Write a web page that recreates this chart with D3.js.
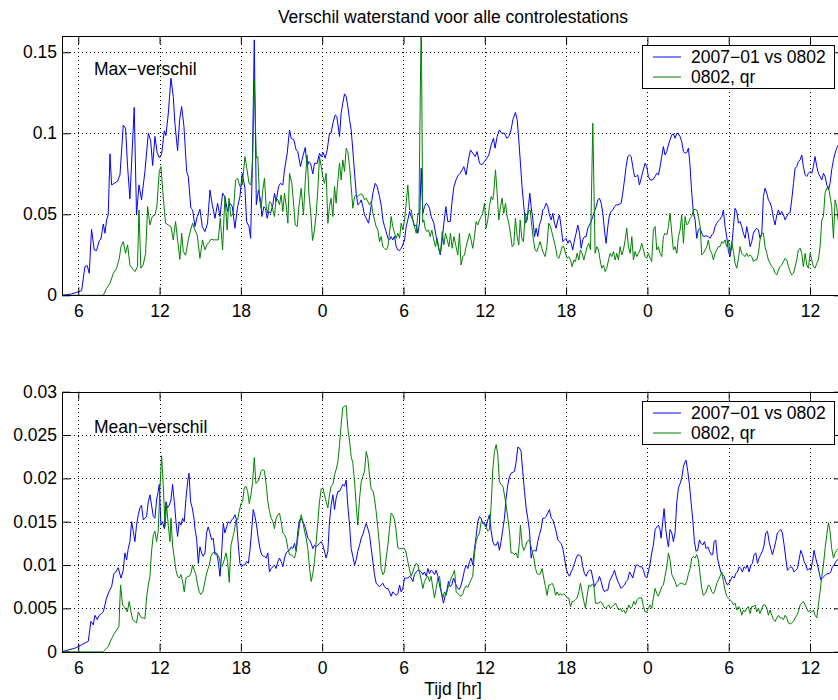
<!DOCTYPE html>
<html>
<head>
<meta charset="utf-8">
<script src="https://cdn.jsdelivr.net/npm/d3@7"></script>
<style>
  body { margin: 0; background: #fff; }
  svg { display: block; font-family: "Liberation Sans", Arial, Helvetica, sans-serif; }
</style>
</head>
<body>
<svg id="chart" width="838" height="700"></svg>
<script>
// Hour-of-run ticks and their clock labels
const hourTicks = [6, 12, 18, 24, 30, 36, 42, 48, 54, 60];
const hourTickLabels = ["6", "12", "18", "0", "6", "12", "18", "0", "6", "12"];
const maxTicks = [0, 0.05, 0.1, 0.15];
const meanTicks = [0, 0.005, 0.01, 0.015, 0.02, 0.025, 0.03];
const seriesNames = ["2007\u221201 vs 0802", "0802, qr"];
const seriesColors = ["#0000ff", "#008000"];

// [hour, value] — maximum water-level difference over all stations
const maxDiff2007 = [[4.8,0],[5.51,0.0008],[6.25,0.0029],[6.49,0.0177],[6.66,0.0183],[6.81,0.0136],[6.98,0.0407],[7.18,0.028],[7.35,0.0276],[7.55,0.0338],[7.67,0.0346],[7.85,0.044],[7.97,0.0383],[8.09,0.0465],[8.21,0.0496],[8.34,0.0873],[8.46,0.0681],[8.66,0.0691],[8.9,0.0704],[9.08,0.0743],[9.32,0.105],[9.49,0.1031],[9.64,0.0794],[9.81,0.0595],[10.13,0.1159],[10.3,0.0496],[10.48,0.0681],[10.67,0.0589],[10.92,0.0764],[11.17,0.1],[11.34,0.0955],[11.49,0.0801],[11.66,0.098],[11.83,0.0877],[11.98,0.085],[12.15,0.0871],[12.35,0.1015],[12.47,0.0986],[12.64,0.1118],[12.84,0.134],[13.01,0.1227],[13.13,0.1062],[13.33,0.0893],[13.48,0.1083],[13.63,0.1165],[13.8,0.1041],[14,0.0764],[14.12,0.0733],[14.31,0.0537],[14.44,0.0527],[14.61,0.0424],[14.78,0.0486],[14.98,0.0531],[15.15,0.0424],[15.35,0.0393],[15.54,0.0445],[15.72,0.065],[15.89,0.0558],[16.09,0.0475],[16.28,0.0568],[16.46,0.0486],[16.65,0.063],[16.82,0.0609],[17.02,0.0517],[17.19,0.0568],[17.37,0.0547],[17.56,0.0414],[17.76,0.0547],[17.93,0.0609],[18.1,0.0753],[18.3,0.0661],[18.42,0.0455],[18.6,0.0424],[18.72,0.0352],[18.84,0.0774],[18.99,0.1576],[19.14,0.0558],
[19.3,0.065],[19.45,0.0589],[19.55,0.0486],[19.7,0.0547],[19.82,0.0537],[19.94,0.0475],[20.06,0.0517],[20.19,0.0506],[20.36,0.0558],[20.48,0.063],[20.6,0.0578],[20.78,0.0671],[20.92,0.0691],[21.1,0.0681],[21.22,0.0774],[21.42,0.0877],[21.59,0.1021],[21.71,0.0969],[21.91,0.0959],[22.08,0.0897],[22.2,0.0887],[22.4,0.0794],[22.57,0.0856],[22.75,0.0912],[22.89,0.0794],[23.02,0.0825],[23.14,0.0815],[23.31,0.0749],[23.43,0.0815],[23.63,0.0815],[23.8,0.0877],[23.93,0.0856],[24.07,0.0881],[24.22,0.0846],[24.37,0.0897],[24.54,0.1],[24.66,0.1],[24.79,0.1062],[24.96,0.1113],[25.08,0.1103],[25.28,0.098],[25.4,0.1124],[25.52,0.1185],[25.65,0.1243],[25.77,0.1227],[25.89,0.1165],[26.02,0.1083],[26.14,0.1021],[26.26,0.0897],[26.39,0.0753],[26.51,0.063],[26.63,0.0558],[26.76,0.0568],[26.88,0.0589],[27,0.0547],[27.12,0.0496],[27.25,0.0475],[27.42,0.0445],[27.57,0.0527],[27.74,0.063],[27.91,0.0691],[28.06,0.0671],[28.23,0.0609],[28.35,0.0558],[28.48,0.0465],[28.6,0.0424],[28.72,0.0393],[28.85,0.0352],[28.97,0.0342],[29.09,0.0362],[29.21,0.0342],[29.34,0.0366],[29.46,0.03],[29.58,0.028],[29.71,0.0276],[29.83,0.029],[29.95,0.0311],[30.08,0.0342],[30.2,0.0424],[30.32,0.0465],[30.45,0.0517],[30.57,0.0486],[30.69,0.0465],[30.81,0.0424],[30.94,0.0434],[31.06,0.0383],[31.18,0.0445],[31.31,0.0784],[31.43,0.0506],[31.55,0.0547],[31.68,0.0568],[31.8,0.0558],[31.92,0.0537],[32.04,0.0486],[32.24,0.0445],[32.41,0.0362],[32.58,0.03],[32.71,0.0249],[32.83,0.0321],[32.98,0.0445],[33.13,0.0547],[33.27,0.0455],[33.45,0.0455],[33.57,0.0568],[33.72,0.0671],
[33.88,0.0712],[34.01,0.0737],[34.18,0.0753],[34.33,0.0774],[34.45,0.0794],[34.62,0.0743],[34.79,0.0836],[34.94,0.0897],[35.11,0.0877],[35.29,0.0856],[35.43,0.0887],[35.61,0.0815],[35.78,0.0805],[35.97,0.0825],[36.15,0.0846],[36.3,0.0866],[36.47,0.0928],[36.64,0.0969],[36.76,0.0908],[36.91,0.098],[37.08,0.1021],[37.25,0.1],[37.45,0.1],[37.62,0.0969],[37.77,0.098],[37.94,0.1021],[38.07,0.1083],[38.26,0.1128],[38.39,0.1083],[38.51,0.0959],[38.63,0.0815],[38.75,0.0671],[38.88,0.0547],[39,0.0445],[39.12,0.0465],[39.22,0.0547],[39.32,0.063],[39.42,0.0547],[39.54,0.0475],[39.67,0.0362],[39.79,0.0414],[39.91,0.0362],[40.03,0.0434],[40.16,0.0465],[40.28,0.0527],[40.4,0.0537],[40.53,0.0568],[40.65,0.0547],[40.77,0.0496],[40.9,0.0465],[41.02,0.0506],[41.14,0.0445],[41.26,0.0414],[41.39,0.0465],[41.51,0.0496],[41.63,0.0424],[41.76,0.0331],[41.88,0.0342],[42,0.0352],[42.13,0.0321],[42.25,0.0342],[42.37,0.0321],[42.49,0.028],[42.62,0.0342],[42.74,0.0383],[42.86,0.0434],[42.99,0.0383],[43.11,0.029],[43.23,0.0342],[43.36,0.0362],[43.48,0.0362],[43.6,0.0414],[43.72,0.0434],[43.85,0.0455],[43.97,0.0486],[44.09,0.0517],[44.22,0.0547],[44.34,0.0589],[44.46,0.0599],[44.59,0.0568],[44.71,0.0506],[44.83,0.0403],[44.95,0.0321],[45.08,0.0424],[45.2,0.0496],[45.32,0.0517],[45.45,0.0527],[45.57,0.0547],[45.69,0.0558],[45.82,0.0558],[45.94,0.0562],[46.06,0.0568],[46.18,0.063],[46.31,0.0712],[46.43,0.0794],[46.55,0.0856],[46.68,0.0866],[46.8,0.0856],[46.92,0.0794],[47.05,0.0733],[47.17,0.0733],[47.29,0.0743],[47.41,0.0681],[47.54,0.0722],[47.66,0.0764],
[47.83,0.0815],[47.95,0.0794],[48.07,0.0733],[48.2,0.0712],[48.39,0.0712],[48.57,0.0733],[48.69,0.0753],[48.81,0.0743],[48.94,0.0794],[49.06,0.0856],[49.18,0.0918],[49.3,0.0866],[49.43,0.0887],[49.55,0.0928],[49.67,0.0959],[49.8,0.099],[49.92,0.0996],[50.04,0.0969],[50.17,0.1],[50.29,0.0996],[50.41,0.098],[50.53,0.0949],[50.66,0.0887],[50.78,0.0877],[50.9,0.0881],[51.03,0.0908],[51.15,0.0794],[51.27,0.063],[51.4,0.0506],[51.52,0.0465],[51.64,0.0352],[51.76,0.0403],[51.89,0.0414],[52.01,0.0383],[52.13,0.0362],[52.26,0.0366],[52.38,0.0366],[52.5,0.0362],[52.62,0.0352],[52.75,0.0372],[52.87,0.0383],[52.99,0.0424],[53.12,0.0445],[53.24,0.0459],[53.36,0.0469],[53.49,0.0486],[53.61,0.0527],[53.73,0.0424],[53.85,0.0362],[53.98,0.027],[54.1,0.0239],[54.22,0.03],[54.35,0.0424],[54.47,0.0537],[54.59,0.0517],[54.72,0.0445],[54.84,0.0455],[54.96,0.0424],[55.08,0.0383],[55.21,0.0352],[55.33,0.0424],[55.45,0.0372],[55.58,0.03],[55.7,0.0331],[55.82,0.0383],[55.95,0.0403],[56.07,0.0414],[56.19,0.0403],[56.31,0.0352],[56.44,0.0383],[56.56,0.0609],[56.68,0.0661],[56.81,0.063],[56.93,0.0589],[57.05,0.0572],[57.18,0.0537],[57.3,0.0475],[57.42,0.0434],[57.55,0.0496],[57.67,0.0527],[57.79,0.0496],[57.91,0.0517],[58.04,0.0496],[58.16,0.0465],[58.28,0.0486],[58.41,0.0506],[58.53,0.051],[58.65,0.0589],[58.78,0.0691],[58.9,0.0784],[59.02,0.0794],[59.14,0.0825],[59.27,0.0836],[59.39,0.0866],[59.51,0.0794],[59.64,0.0743],[59.76,0.0733],[59.88,0.0753],[60.01,0.0764],[60.13,0.0753],[60.25,0.0794],[60.37,0.0856],[60.5,0.0794],[60.62,0.0753],[60.74,0.0733],[60.87,0.0712],[60.99,0.0753],[61.11,0.0733],[61.24,0.0681],[61.36,0.065],[61.48,0.0691],[61.6,0.0774],[61.73,0.0836],[61.85,0.0877],[61.97,0.0908],[62.07,0.0928],[62.36,0.093]];

const maxDiffQr = [[4.8,0],[7.85,0],[8.09,0.0043],[8.34,0.0074],[8.59,0.0136],[8.83,0.0167],[9.03,0.0228],[9.15,0.03],[9.32,0.0331],[9.49,0.0259],[9.64,0.0311],[9.81,0.0187],[9.99,0.0167],[10.18,0.0146],[10.37,0.0177],[10.48,0.0527],[10.62,0.0167],[10.79,0.0187],[10.97,0.0259],[11.12,0.0547],[11.29,0.0434],[11.46,0.0486],[11.66,0.0496],[11.8,0.0547],[11.98,0.0764],[12.1,0.0794],[12.27,0.0609],[12.44,0.0445],[12.64,0.0434],[12.84,0.0424],[13.01,0.0342],[13.18,0.0455],[13.33,0.0342],[13.5,0.0222],[13.63,0.0383],[13.75,0.027],[13.92,0.0247],[14.12,0.0342],[14.29,0.0403],[14.44,0.0445],[14.61,0.0403],[14.78,0.0372],[14.98,0.0228],[15.17,0.0342],[15.35,0.028],[15.49,0.0311],[15.64,0.0325],[15.79,0.0346],[15.99,0.0342],[16.16,0.0342],[16.33,0.0342],[16.48,0.0475],[16.65,0.028],[16.82,0.0609],[16.99,0.0403],[17.12,0.0599],[17.27,0.0486],[17.44,0.0506],[17.61,0.0712],[17.76,0.0722],[17.93,0.0671],[18.1,0.0681],[18.3,0.0856],[18.42,0.0794],[18.6,0.0691],[18.74,0.0681],[18.87,0.0836],[18.99,0.133],[19.14,0.0846],
[19.25,0.0856],[19.38,0.0589],[19.5,0.0537],[19.62,0.065],[19.74,0.0722],[19.87,0.0547],[19.99,0.0506],[20.11,0.0578],[20.24,0.0568],[20.36,0.0527],[20.48,0.0486],[20.6,0.0599],[20.73,0.0589],[20.85,0.0558],[20.97,0.0619],[21.1,0.0517],[21.22,0.063],[21.34,0.0558],[21.47,0.0445],[21.59,0.0753],[21.76,0.0691],[21.91,0.0547],[22.01,0.0434],[22.16,0.0424],[22.28,0.0547],[22.45,0.0661],[22.62,0.0496],[22.75,0.0702],[22.89,0.0866],[23.02,0.063],[23.14,0.0527],[23.29,0.0338],[23.43,0.0403],[23.56,0.0506],[23.68,0.065],[23.8,0.0856],[23.93,0.0794],[24.05,0.0733],[24.17,0.0691],[24.29,0.0753],[24.42,0.0445],[24.54,0.0547],[24.66,0.0599],[24.79,0.0486],[24.91,0.0671],[25.03,0.0568],[25.16,0.0712],[25.28,0.0815],[25.4,0.0712],[25.52,0.0836],[25.65,0.0764],[25.77,0.0908],[25.89,0.0887],[26.02,0.0794],[26.14,0.0671],[26.26,0.0537],[26.39,0.0609],[26.51,0.0619],[26.63,0.0609],[26.83,0.0626],[27,0.0619],[27.12,0.0589],[27.25,0.0599],[27.37,0.0578],[27.49,0.0558],[27.62,0.0578],[27.74,0.0506],[27.86,0.0465],[27.98,0.0424],[28.11,0.0403],[28.23,0.0331],[28.35,0.0362],[28.48,0.03],[28.6,0.029],[28.72,0.028],[28.85,0.03],[28.97,0.0383],[29.09,0.0486],[29.21,0.0424],[29.34,0.0383],[29.46,0.0352],[29.58,0.0383],[29.71,0.0352],[29.83,0.0445],[29.95,0.0403],[30.08,0.0465],[30.2,0.0568],[30.32,0.0681],[30.45,0.0527],[30.57,0.0527],[30.69,0.0465],[30.81,0.0424],[30.94,0.0383],[31.06,0.0506],[31.14,0.05],[31.31,0.175],[31.42,0.045],[31.5,0.0465],[31.6,0.0414],[31.72,0.0393],[31.85,0.0403],[31.97,0.0362],[32.09,0.0403],[32.24,0.0342],[32.36,0.03],[32.49,0.0352],[32.61,0.028],[32.73,0.0259],[32.86,0.0393],[32.98,0.0311],[33.1,0.0383],[33.23,0.0342],[33.35,0.03],[33.47,0.0383],[33.59,0.029],[33.72,0.0362],
[33.88,0.03],[34.01,0.0249],[34.13,0.0383],[34.25,0.0187],[34.38,0.0239],[34.5,0.0249],[34.62,0.03],[34.75,0.0342],[34.87,0.0383],[34.99,0.0342],[35.11,0.029],[35.24,0.0362],[35.36,0.0455],[35.48,0.0434],[35.61,0.0465],[35.73,0.0486],[35.85,0.0506],[35.98,0.0568],[36.1,0.0414],[36.22,0.0465],[36.34,0.0547],[36.47,0.0609],[36.59,0.0589],[36.66,0.063],[36.79,0.0774],[36.91,0.063],[37.03,0.0465],[37.16,0.0547],[37.28,0.0599],[37.4,0.0506],[37.53,0.0568],[37.65,0.0486],[37.77,0.0445],[37.89,0.0383],[38.02,0.03],[38.14,0.0311],[38.26,0.0475],[38.39,0.0362],[38.51,0.0311],[38.61,0.0465],[38.73,0.0352],[38.85,0.0331],[38.98,0.0506],[39.1,0.0465],[39.22,0.0517],[39.35,0.0527],[39.47,0.0424],[39.59,0.0342],[39.71,0.028],[39.84,0.027],[39.96,0.03],[40.08,0.0331],[40.21,0.029],[40.33,0.0259],[40.45,0.0239],[40.58,0.03],[40.72,0.0445],[40.85,0.0424],[40.97,0.0383],[41.09,0.0342],[41.21,0.03],[41.34,0.0239],[41.46,0.0228],[41.58,0.0259],[41.71,0.03],[41.83,0.03],[41.95,0.0259],[42.08,0.0228],[42.2,0.0239],[42.32,0.0218],[42.45,0.0177],[42.57,0.0218],[42.69,0.0208],[42.81,0.0259],[42.94,0.0218],[43.06,0.028],[43.18,0.0259],[43.31,0.0218],[43.43,0.0259],[43.55,0.03],[43.68,0.0321],[43.8,0.028],[43.97,0.1062],[44.14,0.0259],[44.27,0.03],[44.39,0.028],[44.51,0.0218],[44.63,0.0167],[44.76,0.0187],[44.88,0.0146],[45,0.0167],[45.13,0.0218],[45.25,0.0259],[45.37,0.0239],[45.5,0.027],[45.62,0.0218],[45.74,0.0259],[45.86,0.0218],[45.99,0.03],[46.11,0.0249],[46.23,0.028],[46.36,0.0342],[46.48,0.0414],[46.6,0.03],[46.73,0.0259],[46.85,0.0362],[46.97,0.0218],[47.09,0.027],[47.22,0.0239],[47.34,0.0259],[47.46,0.028],
[47.58,0.0321],[47.71,0.028],[47.83,0.0239],[47.95,0.0228],[48.07,0.0259],[48.2,0.0228],[48.32,0.0208],[48.44,0.0403],[48.57,0.0424],[48.69,0.028],[48.81,0.03],[48.93,0.0259],[49.06,0.0239],[49.18,0.0362],[49.3,0.0383],[49.43,0.0372],[49.55,0.0424],[49.67,0.0506],[49.8,0.0383],[49.92,0.028],[50.04,0.03],[50.17,0.0259],[50.29,0.0362],[50.41,0.0403],[50.53,0.0496],[50.66,0.0321],[50.78,0.0486],[50.9,0.0434],[51.03,0.0445],[51.15,0.0475],[51.27,0.0486],[51.4,0.0527],[51.52,0.0531],[51.64,0.0527],[51.76,0.0486],[51.89,0.0424],[52.01,0.0249],[52.13,0.0259],[52.26,0.028],[52.38,0.03],[52.5,0.0342],[52.62,0.028],[52.75,0.0259],[52.87,0.0218],[52.99,0.0259],[53.12,0.028],[53.24,0.03],[53.36,0.03],[53.49,0.0331],[53.61,0.0321],[53.73,0.0342],[53.85,0.03],[53.98,0.0342],[54.1,0.0259],[54.22,0.0331],[54.35,0.027],[54.47,0.0198],[54.59,0.0167],[54.72,0.0228],[54.84,0.03],[54.96,0.0259],[55.08,0.0249],[55.21,0.0239],[55.33,0.0259],[55.45,0.0239],[55.58,0.0249],[55.7,0.0239],[55.82,0.0208],[55.95,0.0218],[56.07,0.0218],[56.19,0.0259],[56.31,0.0342],[56.44,0.0383],[56.56,0.0383],[56.68,0.03],[56.81,0.0259],[56.93,0.0218],[57.05,0.0198],[57.18,0.0177],[57.3,0.0167],[57.42,0.0136],[57.55,0.0126],[57.67,0.0156],[57.79,0.0177],[57.91,0.0187],[58.04,0.0208],[58.16,0.0228],[58.28,0.0218],[58.41,0.0177],[58.53,0.0146],[58.65,0.0126],[58.78,0.0136],[58.9,0.0177],[59.02,0.0218],[59.14,0.028],[59.27,0.029],[59.39,0.0259],[59.51,0.0177],[59.64,0.0259],[59.76,0.0187],[59.88,0.0167],[60.01,0.0259],[60.13,0.0218],[60.25,0.0177],[60.37,0.0167],[60.5,0.0198],[60.62,0.0218],[60.74,0.03],[60.87,0.0465],[60.99,0.0486],[61.11,0.063],[61.24,0.0661],[61.36,0.0671],[61.48,0.0609],[61.6,0.0547],[61.73,0.0352],[61.85,0.0589],[61.97,0.0547],[62.07,0.0465],[62.36,0.046]];

// [hour, value] — mean water-level difference over all stations
const meanDiff2007 = [[4.8,0],[5.26,0.0002],[5.75,0.0004],[6.25,0.0008],[6.74,0.0012],[6.93,0.0035],[7.11,0.0031],[7.23,0.0042],[7.4,0.0037],[7.55,0.0042],[7.72,0.0044],[7.85,0.0046],[7.97,0.0054],[8.09,0.0062],[8.26,0.0069],[8.46,0.0075],[8.63,0.009],[8.78,0.0092],[8.95,0.0097],[9.15,0.0085],[9.32,0.0094],[9.44,0.0114],[9.57,0.0106],[9.69,0.0119],[9.81,0.0127],[9.94,0.015],[10.06,0.0139],[10.18,0.0127],[10.3,0.0146],[10.43,0.0158],[10.55,0.0166],[10.67,0.0169],[10.8,0.0152],[10.92,0.0154],[11.04,0.0156],[11.17,0.0173],[11.29,0.0181],[11.41,0.0169],[11.54,0.0156],[11.66,0.0154],[11.78,0.0175],[11.9,0.0185],[11.98,0.0193],[12.1,0.0146],[12.22,0.015],[12.35,0.0142],[12.47,0.0173],[12.59,0.0166],[12.72,0.0169],[12.84,0.0175],[12.96,0.0193],[13.09,0.0173],[13.21,0.015],[13.33,0.0133],[13.45,0.015],[13.58,0.0146],[13.7,0.0154],[13.82,0.015],[13.95,0.0177],[14.07,0.0196],[14.17,0.0206],[14.29,0.0173],[14.41,0.0166],[14.54,0.0154],[14.61,0.0142],[14.73,0.0131],[14.86,0.0102],[14.98,0.0121],[15.1,0.0114],[15.22,0.011],[15.35,0.0114],[15.47,0.0137],[15.59,0.0144],[15.72,0.0137],[15.84,0.0129],[15.96,0.0131],[16.09,0.0112],[16.21,0.0114],[16.33,0.0104],[16.46,0.0087],[16.58,0.0114],[16.7,0.0148],[16.82,0.0137],[16.95,0.0144],[17.07,0.015],[17.19,0.0148],[17.32,0.0152],[17.44,0.0154],[17.56,0.0158],[17.68,0.0152],[17.81,0.0123],[17.93,0.0102],[18.05,0.0098],[18.18,0.01],[18.3,0.01],[18.42,0.0104],[18.55,0.0102],[18.67,0.0117],[18.79,0.0139],[18.91,0.0164],[19.04,0.0156],[19.16,0.0146],[19.28,0.0131],[19.41,0.0119],[19.53,0.0112],[19.68,0.011],
[19.74,0.011],[19.87,0.0108],[19.99,0.0114],[20.11,0.0092],[20.24,0.0096],[20.36,0.0098],[20.48,0.01],[20.6,0.0096],[20.73,0.0104],[20.85,0.0108],[20.97,0.0104],[21.1,0.0098],[21.22,0.0108],[21.34,0.0114],[21.47,0.0116],[21.59,0.0117],[21.71,0.0121],[21.84,0.0119],[21.96,0.0125],[22.08,0.0116],[22.2,0.0139],[22.33,0.0152],[22.45,0.0154],[22.57,0.015],[22.7,0.0146],[22.82,0.0139],[22.94,0.0131],[23.07,0.0129],[23.19,0.0125],[23.31,0.0119],[23.43,0.0123],[23.56,0.0121],[23.68,0.0123],[23.8,0.0125],[23.93,0.0127],[24.05,0.0123],[24.17,0.0116],[24.29,0.0108],[24.42,0.0116],[24.54,0.015],[24.66,0.0169],[24.79,0.0181],[24.91,0.0164],[25.03,0.0177],[25.16,0.0185],[25.28,0.0185],[25.4,0.0189],[25.52,0.0193],[25.65,0.0191],[25.77,0.0198],[25.89,0.0169],[26.02,0.0146],[26.14,0.0119],[26.26,0.011],[26.39,0.01],[26.51,0.0106],[26.63,0.0116],[26.76,0.0123],[26.88,0.0131],[27,0.0135],[27.12,0.0142],[27.25,0.0148],[27.37,0.0142],[27.49,0.0135],[27.62,0.0119],[27.74,0.0104],[27.86,0.0089],[27.98,0.0079],[28.11,0.0077],[28.23,0.0075],[28.35,0.0077],[28.48,0.0079],[28.6,0.0075],[28.72,0.0073],[28.85,0.0073],[28.97,0.0069],[29.09,0.0064],[29.21,0.0069],[29.34,0.0067],[29.46,0.0065],[29.58,0.0067],[29.71,0.0077],[29.83,0.0069],[29.95,0.0073],[30.08,0.0085],[30.2,0.0085],[30.32,0.0085],[30.45,0.0087],[30.57,0.0085],[30.69,0.0081],[30.81,0.0089],[30.94,0.0092],[31.06,0.0094],[31.18,0.0094],[31.31,0.0092],[31.43,0.0089],[31.55,0.0092],[31.68,0.0087],[31.8,0.0096],[31.92,0.009],[32.04,0.0094],[32.17,0.0092],[32.29,0.0089],[32.41,0.0094],[32.54,0.0087],[32.66,0.0077],[32.78,0.0069],[32.95,0.0056],[33.08,0.0065],[33.2,0.0071],[33.32,0.0081],[33.45,0.0075],[33.57,0.0077],[33.69,0.0085],
[33.88,0.0077],[34.01,0.0073],[34.13,0.0072],[34.25,0.0077],[34.38,0.0085],[34.5,0.0094],[34.62,0.01],[34.75,0.0096],[34.87,0.0104],[34.99,0.0108],[35.11,0.01],[35.24,0.0119],[35.36,0.0133],[35.48,0.015],[35.61,0.0156],[35.73,0.0154],[35.85,0.0148],[35.98,0.0149],[36.1,0.0144],[36.22,0.0152],[36.34,0.0158],[36.47,0.0139],[36.59,0.0127],[36.71,0.0123],[36.84,0.0123],[36.96,0.0127],[37.08,0.0117],[37.2,0.0127],[37.33,0.0141],[37.45,0.0154],[37.57,0.0177],[37.7,0.0193],[37.82,0.0202],[37.94,0.0206],[38.07,0.0207],[38.19,0.0208],[38.31,0.0219],[38.44,0.0236],[38.56,0.0235],[38.68,0.0231],[38.8,0.0208],[38.93,0.0185],[39.05,0.0166],[39.17,0.0154],[39.3,0.0139],[39.42,0.0108],[39.54,0.0116],[39.67,0.0117],[39.79,0.0116],[39.91,0.0127],[40.03,0.0135],[40.16,0.0142],[40.28,0.0154],[40.4,0.0154],[40.53,0.0156],[40.65,0.016],[40.77,0.0164],[40.9,0.0154],[41.02,0.0152],[41.14,0.0146],[41.26,0.0139],[41.39,0.0129],[41.51,0.0127],[41.63,0.0125],[41.76,0.0119],[41.88,0.0108],[42,0.0096],[42.13,0.009],[42.25,0.0087],[42.37,0.0092],[42.49,0.0096],[42.62,0.0102],[42.74,0.0108],[42.86,0.0112],[42.99,0.0111],[43.11,0.011],[43.23,0.0098],[43.36,0.009],[43.48,0.0087],[43.6,0.0092],[43.72,0.0094],[43.85,0.0094],[43.97,0.0085],[44.09,0.0075],[44.22,0.0079],[44.34,0.0081],[44.46,0.0087],[44.59,0.0081],[44.71,0.0073],[44.83,0.0069],[44.95,0.0071],[45.08,0.0071],[45.2,0.0081],[45.32,0.0085],[45.45,0.0089],[45.57,0.0094],[45.69,0.0087],[45.82,0.0081],[45.94,0.0077],[46.06,0.0073],[46.18,0.0075],[46.31,0.0077],[46.43,0.0081],[46.55,0.0083],[46.68,0.0092],[46.8,0.0089],[46.92,0.0085],[47.05,0.0094],[47.17,0.01],[47.29,0.01],[47.41,0.0098],
[47.58,0.0098],[47.71,0.0094],[47.83,0.0087],[47.95,0.0085],[48.07,0.0092],[48.2,0.0102],[48.32,0.0114],[48.44,0.0123],[48.57,0.0141],[48.69,0.0144],[48.81,0.0146],[48.93,0.0141],[49.01,0.0131],[49.13,0.015],[49.23,0.0165],[49.35,0.0142],[49.48,0.0127],[49.55,0.0121],[49.67,0.0141],[49.8,0.0137],[49.92,0.0127],[50.04,0.0137],[50.17,0.0173],[50.29,0.0189],[50.41,0.0194],[50.53,0.02],[50.66,0.0214],[50.78,0.0219],[50.85,0.0221],[50.98,0.0208],[51.1,0.0193],[51.22,0.0173],[51.35,0.0152],[51.47,0.0127],[51.59,0.0116],[51.71,0.0117],[51.84,0.0129],[51.96,0.0125],[52.08,0.0123],[52.21,0.0127],[52.33,0.0119],[52.45,0.0121],[52.58,0.0116],[52.7,0.0112],[52.82,0.0112],[52.92,0.0127],[53.04,0.0129],[53.17,0.0108],[53.29,0.01],[53.41,0.0092],[53.54,0.0089],[53.66,0.0087],[53.78,0.0081],[53.9,0.0077],[54.03,0.0079],[54.15,0.0083],[54.27,0.0087],[54.4,0.0085],[54.52,0.009],[54.64,0.0092],[54.77,0.0098],[54.89,0.0096],[55.01,0.0092],[55.13,0.0098],[55.26,0.0096],[55.38,0.01],[55.5,0.0092],[55.63,0.01],[55.75,0.0102],[55.87,0.0112],[56,0.0114],[56.12,0.0102],[56.24,0.0108],[56.36,0.0112],[56.49,0.0116],[56.61,0.0123],[56.73,0.0137],[56.86,0.0139],[56.98,0.0127],[57.1,0.0119],[57.23,0.0112],[57.35,0.0119],[57.47,0.0127],[57.59,0.0137],[57.72,0.0139],[57.84,0.0141],[57.96,0.0137],[58.09,0.0123],[58.21,0.0108],[58.33,0.0094],[58.46,0.0096],[58.58,0.0098],[58.7,0.0097],[58.82,0.0092],[58.95,0.0094],[59.07,0.0096],[59.19,0.0106],[59.32,0.0117],[59.44,0.0112],[59.56,0.0104],[59.69,0.01],[59.81,0.0094],[59.93,0.0096],[60.06,0.0094],[60.18,0.0104],[60.3,0.0117],[60.42,0.0108],[60.55,0.01],[60.67,0.0092],[60.79,0.0083],[60.92,0.0085],[61.04,0.0087],[61.16,0.0089],[61.28,0.009],[61.41,0.009],[61.53,0.0092],[61.65,0.0098],[61.78,0.01],[61.9,0.0104],[62.02,0.0106],[62.36,0.0106]];

const meanDiffQr = [[4.8,0],[7.85,0],[7.97,0.0002],[8.21,0.0006],[8.46,0.0015],[8.66,0.0021],[8.83,0.0025],[9,0.0029],[9.12,0.0077],[9.27,0.0054],[9.44,0.0051],[9.62,0.0046],[9.76,0.0058],[9.89,0.0046],[10.01,0.0037],[10.18,0.0035],[10.3,0.0033],[10.43,0.0046],[10.55,0.0042],[10.67,0.0039],[10.8,0.0039],[10.92,0.0038],[11.04,0.0062],[11.17,0.0077],[11.29,0.0087],[11.41,0.0116],[11.54,0.0135],[11.66,0.0139],[11.78,0.0127],[11.9,0.0139],[12.03,0.0189],[12.15,0.0226],[12.27,0.0193],[12.4,0.0144],[12.52,0.0169],[12.64,0.0146],[12.77,0.0127],[12.84,0.0154],[12.96,0.0123],[13.09,0.0108],[13.21,0.0094],[13.33,0.0087],[13.45,0.0085],[13.58,0.0089],[13.7,0.0081],[13.82,0.0069],[13.95,0.0085],[14.07,0.0087],[14.19,0.0087],[14.31,0.009],[14.44,0.01],[14.56,0.0094],[14.68,0.0089],[14.81,0.0077],[14.93,0.0069],[15.05,0.0066],[15.18,0.0069],[15.3,0.0077],[15.42,0.0087],[15.54,0.0094],[15.67,0.01],[15.79,0.011],[15.91,0.0114],[16.04,0.0115],[16.16,0.0114],[16.28,0.0112],[16.41,0.0108],[16.53,0.0098],[16.65,0.01],[16.77,0.0106],[16.9,0.0114],[17.02,0.0104],[17.14,0.008],[17.27,0.0123],[17.39,0.0131],[17.51,0.0139],[17.64,0.0152],[17.76,0.0152],[17.88,0.0162],[18.01,0.0171],[18.13,0.0173],[18.25,0.0189],[18.37,0.0191],[18.5,0.0185],[18.62,0.0171],[18.74,0.0181],[18.87,0.0196],[18.99,0.0224],[19.11,0.0194],[19.24,0.0196],[19.36,0.02],[19.48,0.0208],[19.58,0.021],[19.73,0.0209],
[19.87,0.0193],[19.99,0.0173],[20.11,0.0162],[20.24,0.0154],[20.36,0.015],[20.48,0.0142],[20.6,0.0154],[20.73,0.0158],[20.85,0.016],[20.97,0.015],[21.1,0.0137],[21.22,0.0135],[21.34,0.0131],[21.47,0.0119],[21.59,0.0112],[21.71,0.0112],[21.84,0.011],[21.96,0.0108],[22.08,0.0116],[22.2,0.0131],[22.33,0.0146],[22.45,0.0158],[22.57,0.015],[22.7,0.0139],[22.82,0.0131],[22.94,0.0119],[23.07,0.0096],[23.19,0.0081],[23.31,0.009],[23.43,0.0104],[23.56,0.0127],[23.68,0.015],[23.8,0.0173],[23.93,0.0188],[24.05,0.0189],[24.17,0.0181],[24.29,0.0173],[24.42,0.0166],[24.54,0.0181],[24.66,0.0191],[24.79,0.0193],[24.91,0.0204],[25.03,0.021],[25.16,0.0219],[25.28,0.0239],[25.4,0.0262],[25.52,0.0282],[25.65,0.0283],[25.77,0.0284],[25.89,0.0258],[26.02,0.0243],[26.14,0.0225],[26.26,0.0218],[26.39,0.0196],[26.51,0.0169],[26.63,0.0146],[26.76,0.0177],[26.88,0.0196],[27,0.0202],[27.12,0.0208],[27.25,0.0231],[27.37,0.0223],[27.49,0.0204],[27.62,0.0187],[27.74,0.0186],[27.86,0.0177],[27.98,0.0162],[28.11,0.0142],[28.23,0.0123],[28.35,0.0096],[28.48,0.0089],[28.6,0.0092],[28.72,0.0108],[28.85,0.0123],[28.97,0.0142],[29.09,0.016],[29.21,0.0158],[29.34,0.0152],[29.46,0.0139],[29.58,0.012],[29.71,0.0119],[29.83,0.0119],[29.95,0.0119],[30.08,0.0119],[30.2,0.0114],[30.32,0.0104],[30.45,0.0094],[30.57,0.0087],[30.69,0.0092],[30.81,0.0098],[30.94,0.0102],[31.06,0.01],[31.18,0.0092],[31.31,0.0083],[31.43,0.0073],[31.55,0.0081],[31.68,0.0085],[31.8,0.0087],[31.92,0.0081],[32.04,0.0087],[32.17,0.0073],[32.29,0.0062],[32.41,0.0073],[32.54,0.0085],[32.66,0.0087],[32.78,0.0071],[32.9,0.0062],[33.03,0.0069],[33.15,0.0065],[33.27,0.0073],[33.4,0.0079],[33.52,0.0085],[33.64,0.0089],[33.77,0.0094],[33.89,0.0069],[34.01,0.0067],[34.14,0.0065],[34.26,0.0064],[34.38,0.0067],[34.5,0.0073],
[34.62,0.0076],[34.75,0.0074],[34.87,0.0079],[34.99,0.0083],[35.11,0.0087],[35.24,0.0114],[35.36,0.0127],[35.48,0.0133],[35.61,0.0137],[35.73,0.015],[35.85,0.015],[35.98,0.0146],[36.1,0.0144],[36.22,0.0139],[36.34,0.0141],[36.47,0.0169],[36.59,0.021],[36.71,0.0231],[36.84,0.0239],[36.96,0.0227],[37.08,0.0196],[37.2,0.0193],[37.33,0.0191],[37.45,0.0181],[37.57,0.0169],[37.7,0.0154],[37.82,0.0139],[37.94,0.0114],[38.07,0.0114],[38.19,0.0112],[38.31,0.0114],[38.44,0.0108],[38.56,0.0127],[38.63,0.0146],[38.76,0.0123],[38.88,0.0117],[39,0.0121],[39.12,0.0127],[39.25,0.0129],[39.37,0.0125],[39.49,0.0116],[39.62,0.0108],[39.74,0.0096],[39.86,0.009],[39.98,0.0089],[40.11,0.009],[40.23,0.0096],[40.35,0.0085],[40.48,0.0075],[40.6,0.0065],[40.72,0.0077],[40.85,0.0077],[40.97,0.0079],[41.09,0.0075],[41.22,0.0065],[41.34,0.0069],[41.46,0.0065],[41.58,0.0067],[41.71,0.0065],[41.83,0.0067],[41.95,0.0065],[42.08,0.0062],[42.2,0.0062],[42.32,0.0052],[42.45,0.0058],[42.57,0.0058],[42.69,0.006],[42.81,0.0062],[42.94,0.0069],[43.06,0.0079],[43.18,0.0069],[43.31,0.0058],[43.43,0.005],[43.55,0.0065],[43.68,0.0077],[43.8,0.0075],[43.92,0.0078],[44.04,0.0077],[44.17,0.0056],[44.29,0.0056],[44.41,0.0056],[44.54,0.0058],[44.66,0.0056],[44.78,0.0052],[44.9,0.005],[45.03,0.0052],[45.15,0.0054],[45.27,0.005],[45.4,0.0052],[45.52,0.0054],[45.64,0.0056],[45.77,0.0052],[45.89,0.0048],[46.01,0.005],[46.13,0.0046],[46.26,0.0048],[46.38,0.0044],[46.5,0.0048],[46.63,0.0054],[46.75,0.005],[46.87,0.0052],[47,0.0058],[47.12,0.0054],[47.24,0.006],[47.36,0.0062],
[47.58,0.0062],[47.71,0.0052],[47.83,0.0046],[47.95,0.0046],[48.07,0.005],[48.2,0.0054],[48.32,0.005],[48.44,0.0062],[48.57,0.0073],[48.69,0.0067],[48.81,0.0064],[48.93,0.0069],[49.06,0.0075],[49.18,0.0077],[49.3,0.0087],[49.43,0.0098],[49.55,0.0114],[49.67,0.0106],[49.8,0.0089],[49.92,0.0085],[50.04,0.0081],[50.17,0.0075],[50.29,0.0077],[50.41,0.0079],[50.53,0.0079],[50.66,0.0078],[50.78,0.0077],[50.9,0.0081],[51.03,0.009],[51.15,0.0096],[51.27,0.0108],[51.4,0.011],[51.52,0.0108],[51.64,0.0112],[51.76,0.0106],[51.89,0.0089],[52.01,0.0073],[52.13,0.0065],[52.26,0.0067],[52.38,0.0071],[52.5,0.0077],[52.62,0.0075],[52.75,0.0069],[52.87,0.0067],[52.99,0.0071],[53.12,0.0079],[53.24,0.0083],[53.36,0.0087],[53.49,0.0092],[53.61,0.0081],[53.73,0.0071],[53.85,0.0064],[53.98,0.0062],[54.1,0.006],[54.22,0.0058],[54.35,0.0054],[54.47,0.0056],[54.59,0.0048],[54.72,0.0052],[54.84,0.005],[54.96,0.0042],[55.08,0.0048],[55.21,0.0046],[55.33,0.005],[55.45,0.0052],[55.58,0.0044],[55.7,0.0052],[55.82,0.0052],[55.95,0.0054],[56.07,0.0046],[56.19,0.005],[56.31,0.0044],[56.44,0.005],[56.56,0.0054],[56.68,0.0054],[56.81,0.005],[56.93,0.0042],[57.05,0.0048],[57.18,0.0042],[57.3,0.0037],[57.42,0.0035],[57.55,0.0039],[57.67,0.0042],[57.79,0.0039],[57.91,0.0039],[58.04,0.0037],[58.16,0.0042],[58.28,0.0039],[58.41,0.0033],[58.53,0.0032],[58.65,0.0033],[58.78,0.0035],[58.9,0.0039],[59.02,0.0042],[59.14,0.0046],[59.27,0.0054],[59.39,0.0056],[59.51,0.0058],[59.64,0.0054],[59.76,0.005],[59.88,0.0046],[60.01,0.0048],[60.13,0.0046],[60.25,0.0048],[60.37,0.0042],[60.5,0.0039],[60.62,0.0054],[60.74,0.0069],[60.87,0.0087],[60.99,0.01],[61.11,0.0119],[61.24,0.0135],[61.36,0.0149],[61.48,0.0139],[61.6,0.0119],[61.73,0.0108],[61.85,0.0114],[61.97,0.0117],[62.07,0.0119],[62.36,0.0119]];

// ---- layout ----
const svg = d3.select("#chart");
const FONT = 17.5;
const xLeft = 62, xRight = 842;
const x = d3.scaleLinear().domain([4.8, 62.36]).range([xLeft, xRight]);

const panels = [
  { top: 36, bottom: 295.3, yMax: 0.16, ticks: maxTicks, label: "Max\u2212verschil", labelY: 75,
    legendTop: 45, series: [maxDiff2007, maxDiffQr] },
  { top: 391.7, bottom: 651.7, yMax: 0.03, ticks: meanTicks, label: "Mean\u2212verschil", labelY: 433,
    legendTop: 401, series: [meanDiff2007, meanDiffQr] }
];

function styleAxis(g) {
  g.select(".domain").remove();
  g.selectAll(".tick line").attr("stroke", "#000");
  g.selectAll(".tick text").attr("fill", "#000").attr("font-size", FONT);
  g.attr("font-family", null).attr("font-size", null);
}

panels.forEach((p, i) => {
  const y = d3.scaleLinear().domain([0, p.yMax]).range([p.bottom, p.top]);
  const g = svg.append("g");

  const clipId = "plotclip" + i;
  svg.append("defs").append("clipPath").attr("id", clipId)
    .append("rect").attr("x", xLeft).attr("y", p.top)
    .attr("width", xRight - xLeft).attr("height", p.bottom - p.top);

  // dotted grid
  const grid = g.append("g").attr("stroke", "#000").attr("stroke-width", 1)
    .attr("stroke-dasharray", "1,3").attr("shape-rendering", "crispEdges");
  grid.selectAll("line.v").data(hourTicks).join("line").attr("class", "v")
    .attr("x1", d => Math.round(x(d)) + 0.5).attr("x2", d => Math.round(x(d)) + 0.5)
    .attr("y1", p.top).attr("y2", p.bottom);
  grid.selectAll("line.h").data(p.ticks.filter(t => t > 0)).join("line").attr("class", "h")
    .attr("y1", d => Math.round(y(d)) + 0.5).attr("y2", d => Math.round(y(d)) + 0.5)
    .attr("x1", xLeft).attr("x2", xRight);

  // data lines
  const line = d3.line().x(d => x(d[0])).y(d => y(d[1]));
  const lines = g.append("g").attr("clip-path", `url(#${clipId})`);
  p.series.forEach((s, k) => {
    lines.append("path").datum(s).attr("d", line)
      .attr("fill", "none").attr("stroke", seriesColors[k]).attr("stroke-width", 1)
      .attr("stroke-linejoin", "round");
  });

  // axes with inward ticks
  g.append("g").attr("transform", `translate(0,${p.bottom})`)
    .call(d3.axisBottom(x).tickValues(hourTicks).tickFormat((d, j) => hourTickLabels[j])
      .tickSizeInner(-8).tickSizeOuter(0).tickPadding(9.5)).call(styleAxis);
  g.append("g").attr("transform", `translate(0,${p.top})`)
    .call(d3.axisTop(x).tickValues(hourTicks).tickFormat("")
      .tickSizeInner(-8).tickSizeOuter(0)).call(styleAxis);
  g.append("g").attr("transform", `translate(${xLeft},0)`)
    .call(d3.axisLeft(y).tickValues(p.ticks).tickFormat(d => String(d))
      .tickSizeInner(-8).tickSizeOuter(0).tickPadding(5)).call(styleAxis);
  g.append("g").attr("transform", `translate(${xRight},0)`)
    .call(d3.axisRight(y).tickValues(p.ticks).tickFormat("")
      .tickSizeInner(-8).tickSizeOuter(0)).call(styleAxis);

  // axes box
  g.append("rect").attr("x", xLeft + 0.5).attr("y", Math.round(p.top) + 0.5)
    .attr("width", xRight - xLeft).attr("height", Math.round(p.bottom) - Math.round(p.top))
    .attr("fill", "none").attr("stroke", "#000").attr("stroke-width", 1)
    .attr("shape-rendering", "crispEdges");

  // panel caption
  g.append("text").attr("x", 94).attr("y", p.labelY).attr("font-size", FONT)
    .attr("fill", "#000").text(p.label);

  // legend
  const lg = g.append("g").attr("transform", `translate(642,${p.legendTop})`);
  lg.append("rect").attr("x", 0.5).attr("y", 0.5).attr("width", 192).attr("height", 43)
    .attr("fill", "#fff").attr("stroke", "#000").attr("stroke-width", 1)
    .attr("shape-rendering", "crispEdges");
  seriesNames.forEach((name, k) => {
    const ry = 12 + k * 20;
    lg.append("line").attr("x1", 11).attr("x2", 39).attr("y1", ry).attr("y2", ry)
      .attr("stroke", seriesColors[k]).attr("stroke-width", 1);
    lg.append("text").attr("x", 49).attr("y", ry + 6).attr("font-size", FONT)
      .attr("fill", "#000").text(name);
  });
});

// title and x label
svg.append("text").attr("x", 453).attr("y", 22.7).attr("text-anchor", "middle")
  .attr("font-size", FONT).attr("fill", "#000")
  .text("Verschil waterstand voor alle controlestations");
svg.append("text").attr("x", 453).attr("y", 694.5).attr("text-anchor", "middle")
  .attr("font-size", FONT).attr("fill", "#000").text("Tijd [hr]");
</script>
</body>
</html>
